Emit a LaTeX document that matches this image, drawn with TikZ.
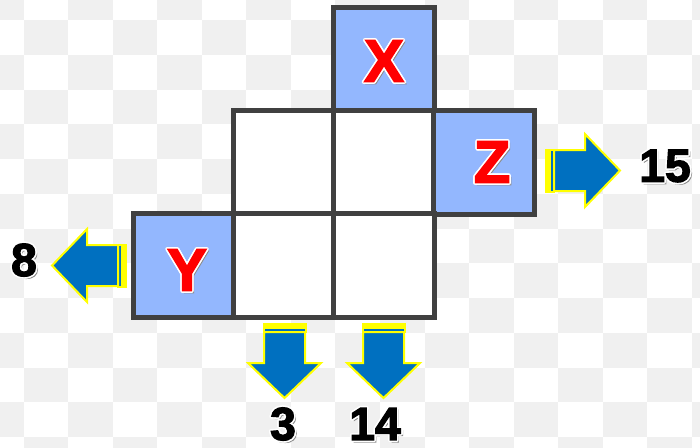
\documentclass[tikz,border=0pt]{standalone}
\usepackage{fontspec}
\newfontfamily\heavyfont{Liberation Sans}[BoldFeatures={FakeBold=2.5}]

\definecolor{checkgray}{HTML}{F0F0F0}
\definecolor{gridgray}{HTML}{404040}
\definecolor{cellblue}{HTML}{93B7FE}
\definecolor{arrowblue}{HTML}{0070C0}
\definecolor{arrowyellow}{HTML}{FFFF00}
\definecolor{shadowgray}{HTML}{8C8C8C}

\newcommand*{\chkw}{44.57}
\newcommand*{\chkh}{34.75}

% text with a white rim and a grey drop shadow
\newcommand*{\rimtext}[5]{%
  \node[#5, text=shadowgray] at ([shift={(2,2)}]#2) {#3};
  \foreach \a in {0,30,...,330}
    \node[#5, text=white] at ([shift={(\a:1.6)}]#2) {#3};
  \node[#5, text=#4] (#1) at (#2) {#3};
}

\begin{document}
\begin{tikzpicture}
[
	x=0.01cm,
	y=-0.01cm,
	cell/.style={draw=gridgray, line width=0.05cm, minimum width=1cm, minimum height=1.03cm, inner sep=0pt, outer sep=0pt},
	givencell/.style={cell, fill=cellblue},
	blankcell/.style={cell, fill=white},
	lettertext/.style={font=\heavyfont\bfseries\fontsize{17}{20}\selectfont, inner sep=0pt},
	sumtext/.style={font=\heavyfont\bfseries\fontsize{13.2}{15}\selectfont, inner sep=0pt},
	stripearrow/.pic={
		\filldraw[fill=arrowblue, draw=arrowyellow, line width=0.02cm] (1,-21) rectangle (9,21);
		\fill[arrowyellow] (0,-22) rectangle (6,22);
		\filldraw[fill=arrowblue, draw=arrowyellow, line width=0.02cm]
			(9,-20.5) -- (40,-20.5) -- (40,-36.5) -- (75,0) -- (40,36.5) -- (40,20.5) -- (9,20.5) -- cycle;
	}
]

	\useasboundingbox (0,0) rectangle (700,447);
	\clip (0,0) rectangle (700,447);

	% background checkers
	\foreach \i in {0,...,16}
		\foreach \j in {0,...,13} {
			\pgfmathtruncatemacro{\chkodd}{mod(\i+\j,2)}
			\ifnum\chkodd=0
				\fill[checkgray] ({-21.07+\i*\chkw},{-14.75+\j*\chkh}) rectangle ++(\chkw,\chkh);
			\fi
		}

	% cells
	\node[givencell] (x) at (384,59.5) {};
	\node[blankcell] (a) at (284,162.5) {};
	\node[blankcell] (b) at (384,162.5) {};
	\node[givencell] (z) at (484,162.5) {};
	\node[givencell] (y) at (184,265.5) {};
	\node[blankcell] (c) at (284,265.5) {};
	\node[blankcell] (d) at (384,265.5) {};

	% letters
	\rimtext{xlabel}{384,61}{X}{red}{lettertext}
	\rimtext{zlabel}{492,162}{Z}{red}{lettertext}
	\rimtext{ylabel}{187,270}{Y}{red}{lettertext}

	% arrows
	\pic at (545,170.5) {stripearrow};
	\pic[rotate=180] at (127,265.5) {stripearrow};
	\pic[rotate=-90] at (284.5,323) {stripearrow};
	\pic[rotate=-90] at (383.5,323) {stripearrow};

	% sums
	\rimtext{sumz}{665,166}{15}{black}{sumtext}
	\rimtext{sumy}{24,260}{8}{black}{sumtext}
	\rimtext{suma}{283,424}{3}{black}{sumtext}
	\rimtext{sumb}{375,424}{14}{black}{sumtext}

\end{tikzpicture}
\end{document}
